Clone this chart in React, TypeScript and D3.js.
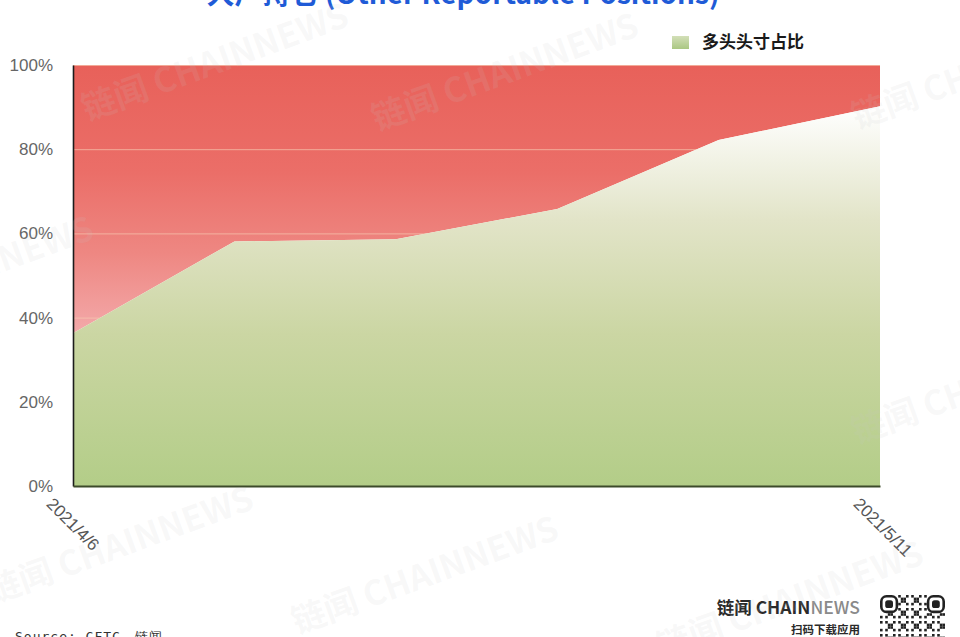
// @ts-nocheck
import { FC, useEffect, useRef } from "react";
import * as d3 from "d3";

// weekly CFTC report dates
const dates = ["2021/4/6", "2021/4/13", "2021/4/20", "2021/4/27", "2021/5/4", "2021/5/11"];
// long position share (green) and short position share (red)
const longShare = [0.363, 0.581, 0.586, 0.658, 0.822, 0.902];
const shortShare = [0.637, 0.419, 0.414, 0.342, 0.178, 0.098];
const yTicks = [0, 0.2, 0.4, 0.6, 0.8, 1];
const xTickLabels = ["2021/4/6", "2021/5/11"];
const title = "大户持仓 (Other Reportable Positions)";
const legendLabel = "多头头寸占比";
const sourceText = "Source: CFTC、链闻";
const watermarkText = "链闻 CHAINNEWS";
const watermarks = [
  [215, 62],
  [505, 72],
  [985, 70],
  [-40, 275],
  [985, 385],
  [120, 545],
  [425, 575],
  [790, 600],
];

const App: FC = () => {
  const ref = useRef();
  const width = 960;
  const height = 637;

  useEffect(() => {
    const svg = d3.select(ref.current);
    svg.selectAll("*").remove();

    const margin = { top: 65, right: 80, bottom: 151, left: 73 };

    const x = d3
      .scalePoint()
      .domain(dates)
      .range([margin.left, width - margin.right]);
    const y = d3
      .scaleLinear()
      .domain([0, 1])
      .range([height - margin.bottom, margin.top]);

    const table = dates.map((date, i) => ({
      date,
      long: longShare[i],
      short: shortShare[i],
    }));
    const series = d3.stack().keys(["long", "short"])(table);

    const defs = svg.append("defs");

    const red = defs
      .append("linearGradient")
      .attr("id", "redFill")
      .attr("gradientUnits", "userSpaceOnUse")
      .attr("x1", 0)
      .attr("x2", 0)
      .attr("y1", y(1))
      .attr("y2", y(d3.min(longShare)));
    red.append("stop").attr("offset", 0).attr("stop-color", "#e8615a");
    red.append("stop").attr("offset", 0.4).attr("stop-color", "#eb6e68");
    red.append("stop").attr("offset", 0.7).attr("stop-color", "#ee8782");
    red.append("stop").attr("offset", 1).attr("stop-color", "#f3a9aa");

    const green = defs
      .append("linearGradient")
      .attr("id", "greenFill")
      .attr("gradientUnits", "userSpaceOnUse")
      .attr("x1", 0)
      .attr("x2", 0)
      .attr("y1", y(d3.max(longShare)))
      .attr("y2", y(0));
    green.append("stop").attr("offset", 0).attr("stop-color", "#ffffff");
    green.append("stop").attr("offset", 0.3).attr("stop-color", "#e2e4c8");
    green.append("stop").attr("offset", 0.6).attr("stop-color", "#cbd6a3");
    green.append("stop").attr("offset", 1).attr("stop-color", "#b3cd88");

    const legendGrad = defs
      .append("linearGradient")
      .attr("id", "legendFill")
      .attr("x1", 0)
      .attr("x2", 0)
      .attr("y1", 0)
      .attr("y2", 1);
    legendGrad.append("stop").attr("offset", 0).attr("stop-color", "#d3dfb8");
    legendGrad.append("stop").attr("offset", 1).attr("stop-color", "#aac782");

    const area = d3
      .area()
      .x((d) => x(d.data.date))
      .y0((d) => y(d[0]))
      .y1((d) => y(d[1]));

    // short share (top, red)
    svg
      .append("path")
      .datum(series[1])
      .attr("fill", "url(#redFill)")
      .attr("d", area);

    // grid lines
    svg
      .append("g")
      .selectAll("line")
      .data(yTicks)
      .join("line")
      .attr("x1", margin.left)
      .attr("x2", width - margin.right)
      .attr("y1", (d) => y(d) + 0.5)
      .attr("y2", (d) => y(d) + 0.5)
      .attr("stroke", "#f7c9b0")
      .attr("stroke-opacity", 0.7);

    // long share (bottom, green)
    svg
      .append("path")
      .datum(series[0])
      .attr("fill", "url(#greenFill)")
      .attr("d", area);

    // y axis
    const yAxis = svg
      .append("g")
      .attr("transform", `translate(${margin.left},0)`)
      .call(
        d3
          .axisLeft(y)
          .tickValues(yTicks)
          .tickFormat(d3.format(".0%"))
          .tickSize(0)
          .tickPadding(20)
      );
    yAxis.select(".domain").attr("stroke", "#1c1c1c").attr("stroke-width", 1.6);
    yAxis
      .selectAll("text")
      .attr("fill", "#666")
      .style("font-family", "'Liberation Sans', Arial, sans-serif")
      .style("font-size", "17px");

    // x axis
    const xAxis = svg
      .append("g")
      .attr("transform", `translate(0,${y(0)})`)
      .call(d3.axisBottom(x).tickValues(xTickLabels).tickSize(0).tickSizeOuter(0));
    xAxis.select(".domain").attr("stroke", "#3c4a2a").attr("stroke-width", 2);
    xAxis
      .selectAll("text")
      .attr("x", 0)
      .attr("y", 0)
      .attr("dy", null)
      .attr("transform", "translate(-28,19) rotate(45)")
      .attr("text-anchor", "start")
      .attr("fill", "#555")
      .style("font-family", "'Liberation Sans', Arial, sans-serif")
      .style("font-size", "17px");

    // title (cropped at the top)
    svg
      .append("text")
      .attr("x", 463)
      .attr("y", 4)
      .attr("text-anchor", "middle")
      .attr("fill", "#1f5bd7")
      .style("font-family", "'Noto Sans CJK SC', sans-serif")
      .style("font-weight", 700)
      .style("font-size", "28px")
      .text(title);

    // legend
    svg
      .append("rect")
      .attr("x", 672)
      .attr("y", 36)
      .attr("width", 17)
      .attr("height", 13)
      .attr("fill", "url(#legendFill)");
    svg
      .append("text")
      .attr("x", 702)
      .attr("y", 42)
      .attr("dy", "0.35em")
      .attr("fill", "#1a1a1a")
      .style("font-family", "'Noto Sans CJK SC', sans-serif")
      .style("font-weight", 700)
      .style("font-size", "17px")
      .text(legendLabel);

    // source note (cropped at the bottom)
    svg
      .append("text")
      .attr("x", 15)
      .attr("y", 641)
      .attr("fill", "#333")
      .style("font-family", "'DejaVu Sans Mono', monospace")
      .style("font-size", "13px")
      .style("letter-spacing", "1px")
      .text(sourceText);

    // logo
    const logo = svg
      .append("text")
      .attr("x", 860)
      .attr("y", 614)
      .attr("text-anchor", "end")
      .style("font-family", "'Noto Sans CJK SC', sans-serif")
      .style("font-weight", 700)
      .style("font-size", "17.5px");
    logo.append("tspan").attr("fill", "#2a2a2a").text("链闻 CHAIN");
    logo.append("tspan").attr("fill", "#8a8a8a").style("font-weight", 500).text("NEWS");
    svg
      .append("text")
      .attr("x", 860)
      .attr("y", 634)
      .attr("text-anchor", "end")
      .attr("fill", "#2a2a2a")
      .style("font-family", "'Noto Sans CJK SC', sans-serif")
      .style("font-weight", 700)
      .style("font-size", "11.5px")
      .text("扫码下载应用");

    // QR code decoration
    const cell = 2.6;
    const n = 25;
    const qx = 880;
    const qy = 595;
    const cells = [];
    for (let i = 0; i < n; i++) {
      for (let j = 0; j < n; j++) {
        const inFinder = (a, b) => i >= a && i < a + 7 && j >= b && j < b + 7;
        if (inFinder(0, 0) || inFinder(0, n - 7) || inFinder(n - 7, 0)) continue;
        if ((i * 7 + j * 13 + i * j * 3) % 5 < 2) cells.push([i, j]);
      }
    }
    const qr = svg.append("g").attr("fill", "#222");
    qr.selectAll("rect.c")
      .data(cells)
      .join("rect")
      .attr("class", "c")
      .attr("x", (d) => qx + d[1] * cell)
      .attr("y", (d) => qy + d[0] * cell)
      .attr("width", cell)
      .attr("height", cell);
    [
      [0, 0],
      [0, n - 7],
      [n - 7, 0],
    ].forEach(([r, c]) => {
      qr.append("rect")
        .attr("x", qx + c * cell + cell / 2)
        .attr("y", qy + r * cell + cell / 2)
        .attr("width", cell * 6)
        .attr("height", cell * 6)
        .attr("rx", cell * 2)
        .attr("fill", "none")
        .attr("stroke", "#222")
        .attr("stroke-width", cell);
      qr.append("rect")
        .attr("x", qx + (c + 2) * cell)
        .attr("y", qy + (r + 2) * cell)
        .attr("width", cell * 3)
        .attr("height", cell * 3)
        .attr("rx", cell);
    });

    // watermarks
    svg
      .append("g")
      .style("pointer-events", "none")
      .selectAll("text")
      .data(watermarks)
      .join("text")
      .attr("transform", (d) => `translate(${d[0]},${d[1]}) rotate(-20)`)
      .attr("text-anchor", "middle")
      .attr("dy", "0.35em")
      .attr("fill", "#c8c8c8")
      .attr("fill-opacity", 0.13)
      .style("font-family", "'Noto Sans CJK SC', sans-serif")
      .style("font-weight", 700)
      .style("font-size", "34px")
      .text(watermarkText);
  }, []);

  return (
    <svg
      ref={ref}
      width={width}
      height={height}
      style={{ position: "absolute", left: 0, top: 0, display: "block", background: "#fff" }}
    />
  );
};

export default App;
